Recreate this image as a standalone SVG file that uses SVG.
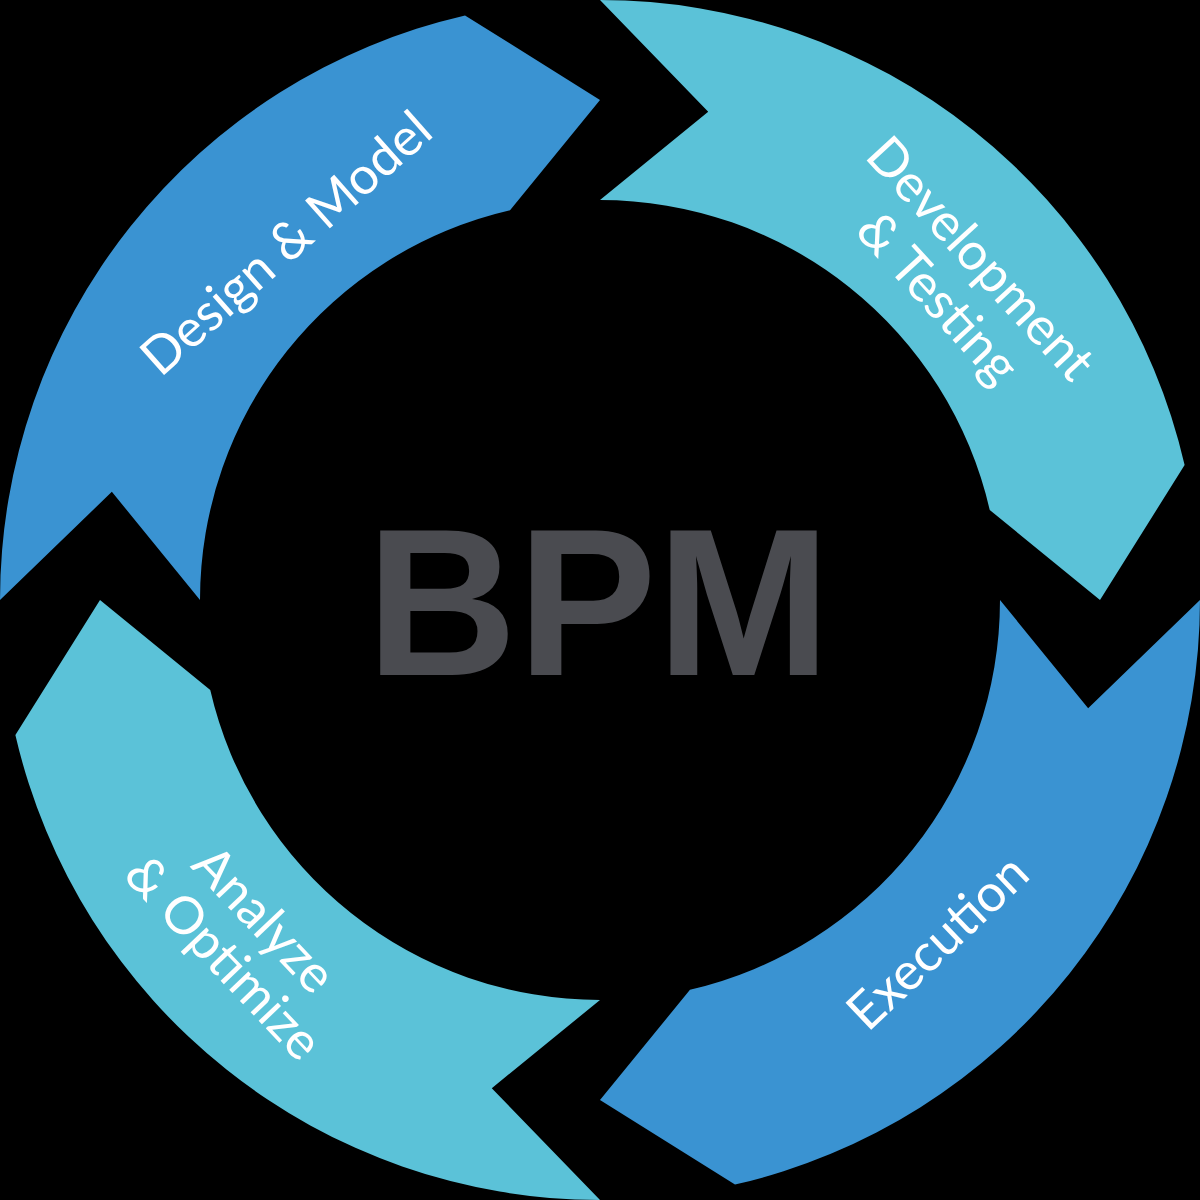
<svg xmlns="http://www.w3.org/2000/svg" width="1200" height="1200" viewBox="0 0 1200 1200">
<style>
.blue{fill:#3a93d2}
.light{fill:#5bc2d8}
.lbl{font-family:Lato,"Liberation Sans",sans-serif;font-size:52px;fill:#ffffff;text-anchor:middle}
.core{font-family:"Liberation Sans",Arial,sans-serif;font-weight:bold;font-size:209px;fill:#4a4b50;text-anchor:middle}
</style>
<rect x="0" y="0" width="1200" height="1200" fill="#000000"/>
<g id="connectors"></g>
<g id="design-model">
<path class="blue" d="M0,600 L111.85,491.78 L200,600 A400,400 0 0 1 510.02,210.25 L600,100 L465.03,15.38 A600,600 0 0 0 0,600 Z"/>
<text class="lbl" transform="translate(285.5,242.5) rotate(-41.5)" dy="0.36em">Design &amp; Model</text>
</g>
<g id="development-testing">
<path class="light" d="M600,0 L708.22,111.85 L600,200 A400,400 0 0 1 989.75,510.02 L1100,600 L1184.62,465.03 A600,600 0 0 0 600,0 Z"/>
<g transform="translate(960,277.5) rotate(47.5)">
<text class="lbl" y="-29" dy="0.36em">Development</text>
<text class="lbl" y="29" dy="0.36em">&amp; Testing</text>
</g>
</g>
<g id="execution">
<path class="blue" d="M1200,600 L1088.15,708.22 L1000,600 A400,400 0 0 1 689.98,989.75 L600,1100 L734.97,1184.62 A600,600 0 0 0 1200,600 Z"/>
<text class="lbl" transform="translate(937,941.5) rotate(-43.5)" dy="0.36em">Execution</text>
</g>
<g id="analyze-optimize">
<path class="light" d="M600,1200 L491.78,1088.15 L600,1000 A400,400 0 0 1 210.25,689.98 L100,600 L15.38,734.97 A600,600 0 0 0 600,1200 Z"/>
<g transform="translate(244.5,938) rotate(46.5)">
<text class="lbl" y="-28" dy="0.36em">Analyze</text>
<text class="lbl" y="28" dy="0.36em">&amp; Optimize</text>
</g>
</g>
<g id="bpm">
<text class="core" x="598.5" y="675">BPM</text>
</g>
</svg>
